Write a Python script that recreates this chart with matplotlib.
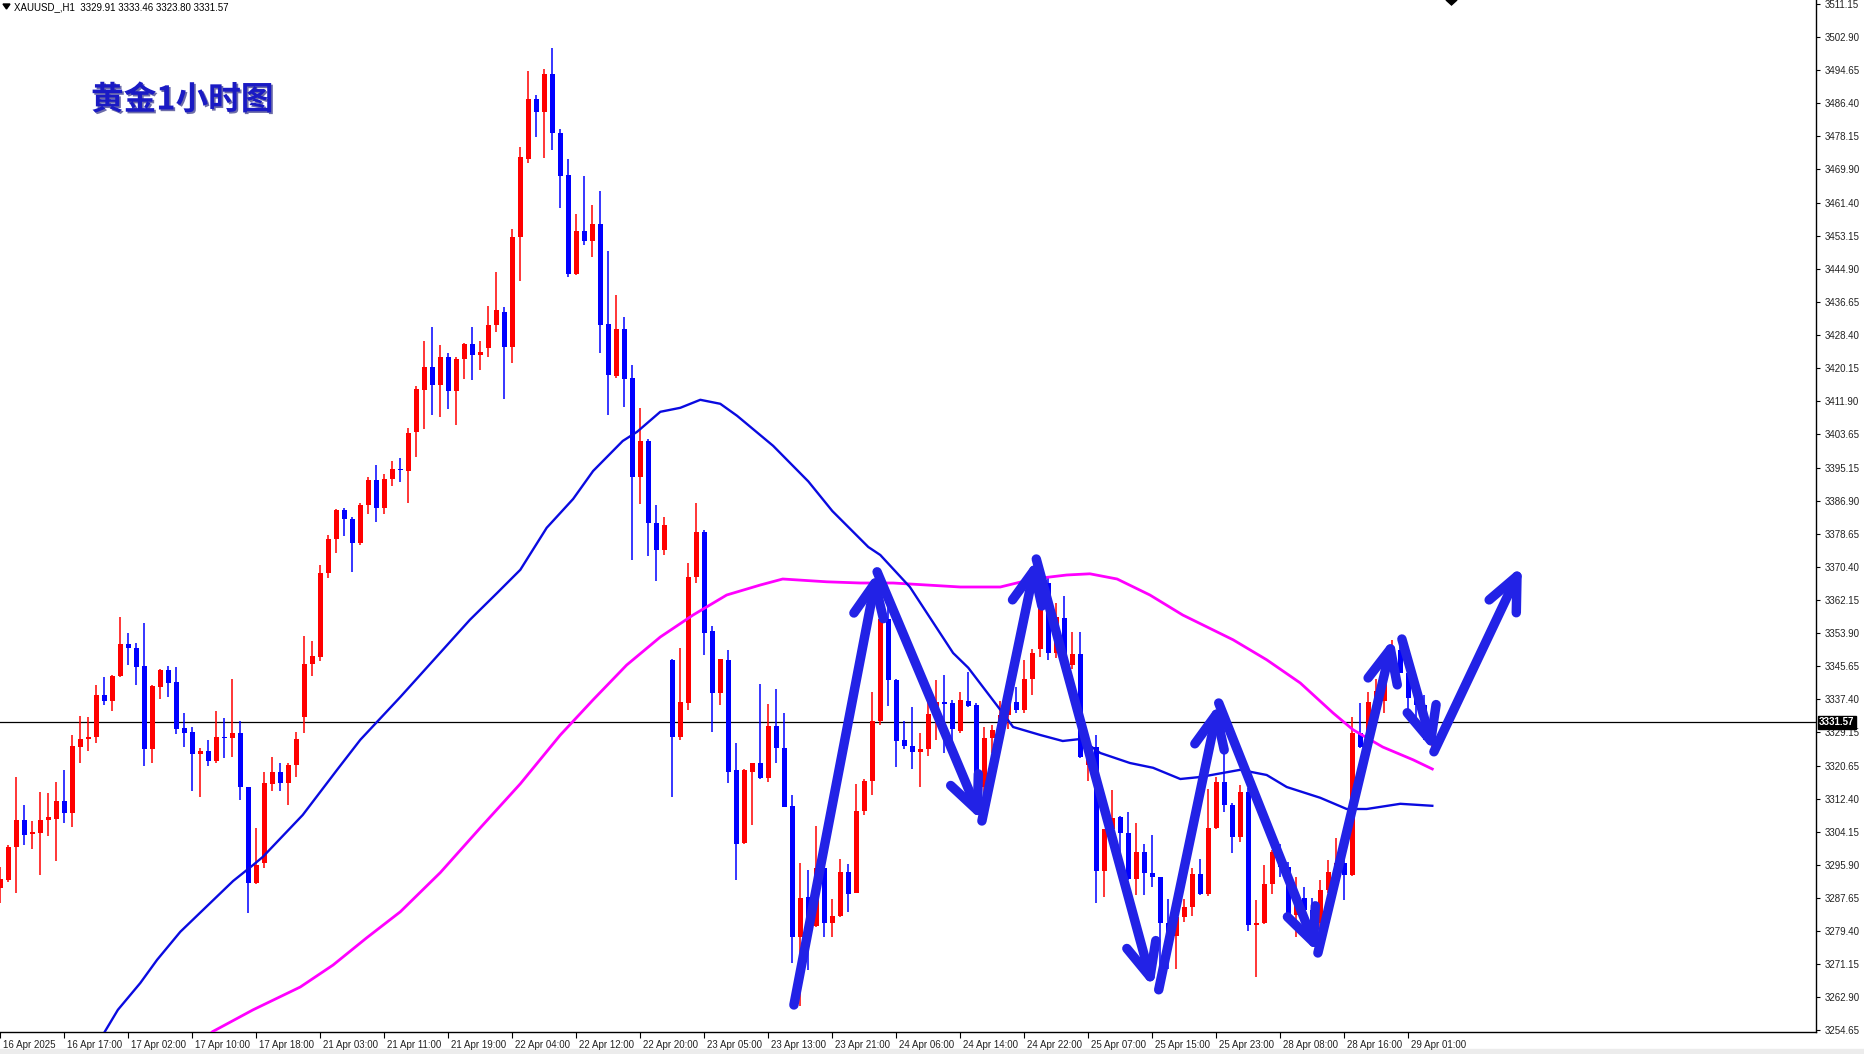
import matplotlib
matplotlib.use("Agg")
import matplotlib.pyplot as plt
import matplotlib.transforms as mtransforms
import matplotlib.patheffects as pe
from matplotlib.patches import Polygon, Rectangle

# ---------------------------
# DATA  (XAUUSD H1)
# ---------------------------
opens = [3290.1, 3292.2, 3300.3, 3307.2, 3303.6, 3304.0, 3307.2, 3307.3, 3312.0, 3308.8,
         3325.5, 3327.5, 3328.0, 3338.4, 3336.8, 3343.2, 3351.2, 3350.1, 3345.7, 3324.8,
         3340.5, 3344.7, 3341.6, 3330.2, 3329.1, 3323.6, 3324.4, 3321.8, 3328.0, 3327.6,
         3328.8, 3315.3, 3291.3, 3296.5, 3316.2, 3319.1, 3316.5, 3320.8, 3332.8, 3346.1,
         3348.0, 3368.8, 3377.3, 3384.7, 3382.3, 3376.3, 3385.8, 3392.1, 3385.1, 3392.5,
         3394.7, 3394.4, 3404.1, 3414.7, 3420.3, 3415.9, 3422.8, 3414.3, 3422.4, 3426.1,
         3423.3, 3425.2, 3430.8, 3434.2, 3425.4, 3452.9, 3472.4, 3487.5, 3484.1, 3493.6,
         3479.0, 3468.4, 3443.7, 3454.3, 3451.9, 3456.2, 3431.1, 3418.1, 3430.0, 3417.7,
         3393.0, 3402.0, 3381.4, 3374.7, 3347.2, 3328.0, 3336.5, 3367.8, 3379.1, 3354.5,
         3339.0, 3347.2, 3319.6, 3301.3, 3319.2, 3321.3, 3317.6, 3330.7, 3325.1, 3310.7,
         3277.8, 3287.8, 3280.7, 3295.1, 3281.5, 3283.2, 3294.2, 3289.0, 3309.5, 3316.8,
         3331.8, 3357.3, 3342.2, 3327.2, 3325.7, 3324.2, 3324.8, 3333.7, 3336.7, 3336.3,
         3329.5, 3337.0, 3335.9, 3315.3, 3327.6, 3329.7, 3333.5, 3336.7, 3334.7, 3342.3,
         3350.0, 3366.3, 3348.8, 3357.6, 3345.9, 3348.7, 3321.0, 3325.3, 3294.5, 3304.8,
         3307.8, 3303.8, 3292.3, 3299.2, 3293.8, 3292.8, 3281.3, 3278.2, 3283.0, 3285.5,
         3293.7, 3288.7, 3305.1, 3316.7, 3310.9, 3302.8, 3314.2, 3280.9, 3281.5, 3291.2,
         3299.2, 3295.5, 3283.4, 3287.6, 3284.7, 3281.3, 3289.7, 3294.2, 3296.3, 3293.4,
         3328.8, 3325.5, 3336.5, 3337.0, 3346.3, 3349.7, 3344.0, 3337.6, 3336.0, 3329.91]
highs = [3295.5, 3300.9, 3318.0, 3310.9, 3306.9, 3314.2, 3313.8, 3316.7, 3319.7, 3328.4,
         3333.2, 3333.0, 3340.9, 3342.8, 3343.3, 3358.0, 3353.8, 3351.5, 3356.5, 3340.9,
         3344.8, 3345.7, 3345.5, 3334.0, 3330.3, 3325.1, 3327.2, 3334.5, 3332.6, 3342.5,
         3331.9, 3315.5, 3305.2, 3319.2, 3323.0, 3321.3, 3321.5, 3329.2, 3353.2, 3351.9,
         3370.9, 3378.4, 3384.8, 3385.2, 3383.0, 3386.5, 3393.0, 3395.8, 3393.7, 3396.9,
         3397.6, 3405.2, 3415.7, 3426.8, 3430.5, 3426.0, 3424.0, 3422.8, 3426.5, 3430.5,
         3426.8, 3435.7, 3444.1, 3435.4, 3454.8, 3475.5, 3494.3, 3488.3, 3494.9, 3500.1,
         3479.8, 3472.4, 3458.7, 3468.1, 3461.0, 3464.4, 3449.4, 3438.5, 3433.0, 3420.8,
         3410.1, 3402.3, 3385.8, 3382.8, 3347.4, 3350.1, 3371.3, 3386.5, 3379.6, 3355.6,
         3347.5, 3349.6, 3326.3, 3319.8, 3321.5, 3341.2, 3336.2, 3339.8, 3333.8, 3313.4,
         3296.5, 3294.7, 3305.7, 3299.2, 3287.3, 3297.3, 3296.2, 3316.2, 3317.3, 3339.2,
         3363.0, 3361.5, 3342.3, 3331.8, 3335.3, 3328.8, 3336.7, 3342.2, 3343.4, 3337.2,
         3339.2, 3344.2, 3336.5, 3330.5, 3331.0, 3337.0, 3338.0, 3340.5, 3347.2, 3350.0,
         3367.2, 3368.2, 3361.3, 3363.2, 3354.2, 3354.2, 3328.0, 3328.4, 3305.0, 3314.7,
         3308.2, 3309.2, 3306.3, 3301.2, 3303.4, 3293.0, 3287.5, 3284.0, 3287.3, 3295.1,
         3297.3, 3314.8, 3318.0, 3330.0, 3311.5, 3315.9, 3315.1, 3287.2, 3295.9, 3299.7,
         3301.2, 3296.7, 3293.0, 3290.5, 3287.6, 3292.2, 3297.2, 3302.6, 3299.2, 3333.0,
         3336.3, 3339.2, 3342.5, 3348.0, 3352.2, 3351.3, 3344.2, 3339.2, 3338.5, 3333.46]
lows = [3286.3, 3291.7, 3288.8, 3300.9, 3299.8, 3293.4, 3303.2, 3297.0, 3306.3, 3305.5,
        3321.5, 3324.5, 3326.5, 3335.9, 3334.5, 3343.0, 3345.9, 3340.9, 3320.7, 3321.3,
        3337.3, 3337.8, 3328.7, 3325.5, 3314.3, 3312.8, 3320.7, 3321.3, 3322.6, 3322.8,
        3312.2, 3284.0, 3291.2, 3295.1, 3314.5, 3314.5, 3310.9, 3318.0, 3329.0, 3343.2,
        3346.8, 3367.6, 3373.8, 3378.2, 3369.2, 3375.9, 3383.7, 3381.7, 3383.7, 3390.7,
        3391.6, 3386.3, 3397.8, 3404.8, 3408.3, 3407.8, 3409.8, 3405.8, 3417.5, 3417.2,
        3419.6, 3422.8, 3429.1, 3412.4, 3421.5, 3442.0, 3471.4, 3477.9, 3472.7, 3474.6,
        3460.1, 3442.8, 3443.4, 3450.8, 3447.8, 3424.0, 3408.5, 3417.7, 3410.3, 3372.2,
        3386.1, 3373.1, 3366.9, 3373.4, 3312.8, 3327.2, 3334.7, 3366.3, 3348.4, 3329.2,
        3335.9, 3316.5, 3292.2, 3301.2, 3305.9, 3317.3, 3316.7, 3321.5, 3310.3, 3271.5,
        3260.7, 3269.7, 3280.5, 3278.0, 3277.8, 3282.8, 3284.2, 3288.8, 3308.4, 3313.4,
        3330.9, 3335.7, 3320.5, 3325.0, 3320.0, 3315.3, 3323.2, 3327.2, 3324.0, 3326.3,
        3329.0, 3335.5, 3313.0, 3311.3, 3324.0, 3326.0, 3330.0, 3333.8, 3333.8, 3338.4,
        3347.8, 3347.2, 3347.6, 3345.5, 3345.0, 3322.6, 3317.0, 3286.5, 3287.8, 3304.7,
        3293.8, 3292.2, 3288.4, 3288.4, 3290.5, 3270.0, 3270.0, 3270.0, 3281.7, 3283.2,
        3288.4, 3288.2, 3304.8, 3309.2, 3298.8, 3301.7, 3279.5, 3268.0, 3281.2, 3288.7,
        3293.0, 3282.2, 3277.8, 3279.7, 3280.5, 3279.7, 3288.8, 3293.0, 3287.2, 3293.2,
        3325.1, 3325.0, 3335.9, 3333.8, 3345.9, 3343.9, 3333.0, 3331.0, 3327.2, 3323.80]
closes = [3292.3, 3300.5, 3307.2, 3303.4, 3304.2, 3307.2, 3307.8, 3312.0, 3308.8, 3325.7,
          3327.4, 3328.0, 3338.4, 3336.8, 3343.2, 3351.2, 3350.1, 3345.5, 3324.8, 3340.7,
          3344.7, 3341.3, 3329.8, 3329.0, 3323.7, 3324.4, 3321.8, 3328.0, 3327.6, 3328.8,
          3315.3, 3291.5, 3295.9, 3316.5, 3319.1, 3316.5, 3320.9, 3327.3, 3346.2, 3348.2,
          3368.9, 3377.4, 3384.7, 3382.3, 3376.3, 3385.8, 3392.1, 3385.1, 3392.5, 3394.9,
          3394.6, 3403.9, 3414.9, 3420.3, 3415.9, 3422.8, 3414.3, 3422.4, 3426.1, 3423.3,
          3424.2, 3430.9, 3434.6, 3425.4, 3452.9, 3472.9, 3487.4, 3484.1, 3493.6, 3479.0,
          3468.1, 3443.7, 3454.3, 3451.9, 3456.2, 3430.9, 3418.4, 3430.0, 3417.5, 3393.0,
          3402.0, 3381.4, 3374.7, 3380.8, 3328.0, 3336.6, 3367.8, 3379.1, 3354.0, 3339.0,
          3347.3, 3319.2, 3301.2, 3319.6, 3321.3, 3317.6, 3330.7, 3325.1, 3310.5, 3277.8,
          3287.6, 3279.2, 3295.1, 3281.5, 3283.2, 3294.2, 3288.7, 3309.5, 3317.0, 3331.8,
          3357.3, 3342.2, 3327.0, 3325.7, 3324.2, 3324.8, 3333.7, 3336.7, 3336.2, 3329.8,
          3337.2, 3335.7, 3315.3, 3327.6, 3329.7, 3333.5, 3336.5, 3334.7, 3342.3, 3348.8,
          3365.5, 3348.8, 3357.8, 3345.9, 3348.7, 3323.0, 3325.3, 3294.5, 3304.8, 3307.6,
          3303.8, 3292.3, 3299.2, 3293.8, 3292.8, 3281.3, 3278.5, 3283.0, 3285.5, 3293.7,
          3288.7, 3305.1, 3316.7, 3310.9, 3302.8, 3314.2, 3280.9, 3281.5, 3291.2, 3299.2,
          3295.5, 3283.4, 3287.2, 3284.7, 3282.2, 3289.7, 3294.2, 3296.3, 3293.4, 3328.8,
          3325.5, 3336.7, 3339.5, 3346.7, 3349.7, 3344.0, 3337.6, 3336.0, 3327.6, 3331.57]

time_labels = ["16 Apr 2025", "16 Apr 17:00", "17 Apr 02:00", "17 Apr 10:00", "17 Apr 18:00",
               "21 Apr 03:00", "21 Apr 11:00", "21 Apr 19:00", "22 Apr 04:00", "22 Apr 12:00",
               "22 Apr 20:00", "23 Apr 05:00", "23 Apr 13:00", "23 Apr 21:00", "24 Apr 06:00",
               "24 Apr 14:00", "24 Apr 22:00", "25 Apr 07:00", "25 Apr 15:00", "25 Apr 23:00",
               "28 Apr 08:00", "28 Apr 16:00", "29 Apr 01:00"]

price_ticks = [3511.15, 3502.90, 3494.65, 3486.40, 3478.15, 3469.90, 3461.40, 3453.15,
               3444.90, 3436.65, 3428.40, 3420.15, 3411.90, 3403.65, 3395.15, 3386.90,
               3378.65, 3370.40, 3362.15, 3353.90, 3345.65, 3337.40, 3329.15, 3320.65,
               3312.40, 3304.15, 3295.90, 3287.65, 3279.40, 3271.15, 3262.90, 3254.65]

# moving averages, sampled along the drawn curves (bar index, price)
ma_blue_bar = [11.5, 14.7, 17.5, 19.6, 22.5, 29.1, 31.6, 32.8, 37.8, 42.1, 45.0, 50.0,
               58.7, 62.1, 65.0, 68.3, 71.6, 74.1, 77.8, 79.6, 82.5, 85.0, 87.5, 90.0,
               92.1, 96.6, 101.0, 104.0, 108.5, 110.0, 113.7, 119.1, 121.0, 125.0, 126.6,
               130.0, 132.8, 135.0, 137.5, 141.2, 144.1, 147.5, 150.0, 155.0, 158.3,
               160.8, 165.0, 168.3, 170.8, 175.0, 179.0]
ma_blue_val = [3249.0, 3259.7, 3266.4, 3272.2, 3279.2, 3291.9, 3295.9, 3297.9, 3308.4,
               3319.7, 3327.2, 3337.9, 3357.2, 3363.9, 3369.7, 3380.2, 3387.4, 3394.4,
               3401.9, 3404.2, 3409.2, 3410.2, 3412.2, 3411.2, 3408.2, 3400.7, 3391.8,
               3384.4, 3375.4, 3373.4, 3365.4, 3348.9, 3345.2, 3334.7, 3330.4, 3328.4,
               3326.9, 3327.4, 3323.9, 3321.4, 3320.2, 3317.4, 3317.9, 3319.7, 3318.4,
               3315.4, 3312.7, 3309.9, 3309.9, 3311.2, 3310.7]

ma_pink_bar = [25.0, 26.5, 31.6, 37.5, 41.6, 45.8, 50.0, 55.0, 60.0, 65.0, 70.0, 74.1,
               78.3, 82.5, 86.6, 90.8, 95.0, 97.8, 103.3, 107.5, 111.6, 115.8, 120.0,
               125.0, 129.1, 133.3, 136.2, 139.6, 143.7, 147.8, 154.1, 158.3, 162.5,
               166.6, 169.1, 172.8, 176.6, 179.0]
ma_pink_val = [3250.5, 3254.2, 3259.7, 3265.4, 3270.9, 3277.7, 3284.2, 3294.0, 3305.2,
               3316.2, 3328.4, 3337.2, 3345.9, 3352.9, 3358.4, 3363.4, 3365.9, 3367.4,
               3366.7, 3366.4, 3366.4, 3365.9, 3365.4, 3365.4, 3367.4, 3368.4, 3368.7,
               3367.4, 3363.4, 3358.4, 3352.2, 3347.2, 3341.4, 3333.9, 3329.7, 3325.4,
               3322.2, 3319.9]

# hand-drawn zigzag arrows (from -> to)
arrow_from_bar = [99.2, 109.6, 122.7, 129.5, 144.8, 152.3, 164.7, 175.2, 179.2]
arrow_from_val = [3260.9, 3369.2, 3306.9, 3372.4, 3264.7, 3336.4, 3273.9, 3352.4, 3324.2]
arrow_to_bar = [109.6, 122.7, 129.5, 144.1, 152.3, 164.7, 174.1, 179.2, 190.2]
arrow_to_val = [3369.2, 3306.9, 3372.4, 3265.2, 3336.4, 3273.9, 3352.7, 3324.2, 3370.7]

last_price = 3331.57

# ---------------------------
# FIGURE
# ---------------------------
W, H = 1864, 1054
fig = plt.figure(figsize=(W / 100, H / 100), dpi=100)
fig.patch.set_facecolor("white")
ax = fig.add_axes([0, 22 / H, 1816 / W, 1032 / H])

bull, bear = "#ff0000", "#0000ff"
bars = list(range(len(opens)))
cols = [bull if c >= o else bear for o, c in zip(opens, closes)]
bottoms = [min(o, c) for o, c in zip(opens, closes)]
heights = [max(abs(c - o), 0.3) for o, c in zip(opens, closes)]

ax.axhline(last_price, color="black", lw=0.9, zorder=1)
ax.vlines(bars, lows, highs, colors=cols, lw=1.1, zorder=2)
ax.bar(bars, heights, bottom=bottoms, width=0.64, color=cols, linewidth=0, zorder=3)

ax.plot(ma_pink_bar, ma_pink_val, color="#ff00ff", lw=2.0, zorder=4)
ax.plot(ma_blue_bar, ma_blue_val, color="#0a0ae0", lw=1.7, zorder=4)

# ---------------------------
# ARROWS
# ---------------------------
for x0, y0, x1, y1 in zip(arrow_from_bar, arrow_from_val, arrow_to_bar, arrow_to_val):
    ax.annotate("", xy=(x1, y1), xytext=(x0, y0),
                arrowprops=dict(arrowstyle="->,head_length=0.8,head_width=0.36",
                                color="#2222e6", lw=6.8, shrinkA=0, shrinkB=0,
                                mutation_scale=30, capstyle="round"),
                zorder=6)

# ---------------------------
# AXES
# ---------------------------
ax.set_xlim((0 - 0.3) / 8, (1816 - 0.3) / 8)
ax.set_ylim(3254.15, 3512.15)

for s in ["top", "left"]:
    ax.spines[s].set_visible(False)
for s in ["right", "bottom"]:
    ax.spines[s].set_color("black")
    ax.spines[s].set_linewidth(1.0)

ax.yaxis.tick_right()
ax.set_yticks(price_ticks)
ax.set_yticklabels([f"{p:.2f}" for p in price_ticks])
ax.tick_params(axis="y", direction="out", length=3, width=0.8, pad=3,
               labelsize=7, labelcolor="#222222")

ax.set_xticks([8 * k for k in range(len(time_labels))])
ax.set_xticklabels(time_labels)
ax.tick_params(axis="x", direction="out", length=4, width=0.8, pad=1.5,
               labelsize=7, labelcolor="#222222")
shift = mtransforms.ScaledTranslation(2 / 72, 0, fig.dpi_scale_trans)
for lbl in ax.get_xticklabels():
    lbl.set_horizontalalignment("left")
    lbl.set_transform(lbl.get_transform() + shift)
for lbl in ax.get_xticklabels() + ax.get_yticklabels():
    lbl.set_family(["Liberation Sans", "DejaVu Sans"])

# last price tag on the axis
tag_tr = mtransforms.blended_transform_factory(ax.transAxes, ax.transData)
ax.text(1.0 + 3 / 1816, last_price, f"{last_price:.2f}", transform=tag_tr,
        ha="left", va="center", fontsize=7, color="white", fontweight="bold",
        family=["Liberation Sans", "DejaVu Sans"],
        bbox=dict(boxstyle="square,pad=0.15", fc="black", ec="black"), zorder=10)

# ---------------------------
# HEADER / TITLE
# ---------------------------
fig.add_artist(Polygon([[3 / W, 1 - 4 / H], [10 / W, 1 - 4 / H], [6.5 / W, 1 - 9 / H]],
                       closed=True, color="black", transform=fig.transFigure))
fig.text(14 / W, 1 - 7 / H, "XAUUSD_,H1  3329.91 3333.46 3323.80 3331.57",
         fontsize=7, va="center", ha="left", color="black",
         family=["Liberation Sans", "DejaVu Sans"])
fig.add_artist(Polygon([[1446 / W, 1.0], [1457 / W, 1.0], [1451.5 / W, 1 - 5 / H]],
                       closed=True, color="black", transform=fig.transFigure))

fig.text(91 / W, 1 - 100 / H, "黄金1小时图", fontsize=23.5, fontweight="heavy",
         color="#1a1ac4", va="center", ha="left",
         family=["Noto Sans CJK SC", "DejaVu Sans"],
         path_effects=[pe.withSimplePatchShadow(offset=(1.2, -1.2),
                                                shadow_rgbFace="#0a0a70", alpha=0.6)])

fig.add_artist(Rectangle((0, 0), 1, 5 / H, transform=fig.transFigure,
                         color="#ececec", zorder=0))

fig.savefig("out.png", dpi=100)
